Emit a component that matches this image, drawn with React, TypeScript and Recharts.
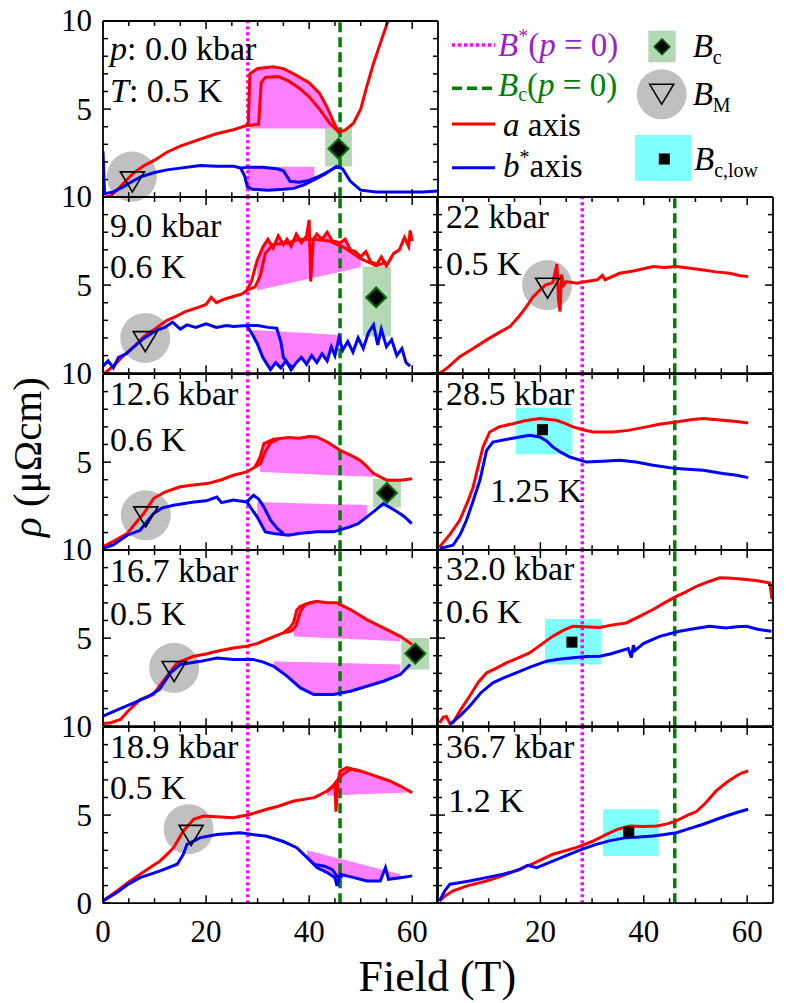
import React from 'react';
import { ComposedChart, Line, Area, XAxis, YAxis, ReferenceLine, ReferenceArea, ReferenceDot } from 'recharts';

type Pt = [number, number];

// ---------- axes ----------
const fieldTicks = [0, 5, 10, 15, 20, 25, 30, 35, 40, 45, 50, 55, 60];
const rhoTicks = [0, 1, 2, 3, 4, 5, 6, 7, 8, 9, 10];
const fieldDomain: [number, number] = [0, 65];
const rhoDomain: [number, number] = [0, 10];
const bStarField = 28.1;
const bcField = 46;

// ---------- p = 0.0 kbar, 0.5 K ----------
const p00Red1: Pt[] = [[0, 0], [1.4, 0.05], [3.4, 0.6], [5.9, 1.37], [8, 1.8], [10, 2.1], [12.4, 2.55], [15, 2.9], [18.9, 3.3], [22, 3.6], [25.3, 3.83], [27.6, 4.05], [28.2, 4.2], [28.5, 7.0], [30, 7.3], [33, 7.4], [35, 7.3], [37, 7.0], [40, 6.5], [42, 5.9], [43.5, 5.1], [44.7, 4.3], [45.7, 3.7], [47, 3.8], [48.6, 4.2], [50, 5.0], [51.2, 6.3], [52.5, 7.6], [54, 8.9], [55.3, 10]];
const p00Red2: Pt[] = [[27.6, 4.05], [29, 4.1], [30.2, 4.15], [30.7, 6.5], [31.5, 6.8], [34, 6.85], [36, 6.6], [38, 6.2], [40, 5.7], [42, 5.0], [44, 4.2], [45.7, 3.7]];
const p00Blue1: Pt[] = [[0, 2.6], [0.3, 0.2], [2, 0.3], [4, 0.6], [6, 0.95], [7.3, 1.15], [10, 1.4], [12.4, 1.55], [15, 1.65], [18.9, 1.8], [22, 1.75], [25.4, 1.75], [26.7, 1.65], [27.5, 1.2], [28, 0.6], [29, 0.45], [32, 0.4], [35, 0.45], [37, 0.5], [39, 0.7], [41, 1.0], [43, 1.3], [45.4, 1.75], [46.5, 1.6], [48, 0.9], [50, 0.4], [53, 0.3], [58, 0.3], [62, 0.3], [65, 0.35]];
const p00Blue2: Pt[] = [[26.7, 1.65], [28, 1.7], [31, 1.7], [34, 1.6], [35, 1.5], [36.3, 0.9], [38, 0.85], [40, 0.95], [42, 1.2], [44, 1.5], [45.4, 1.75]];
const p00RedFillEdge = [28.5, 45.7, 3.9, 3.9];
const p00BlueFillEdge = [28, 42, 1.73, 1.73];
const p00BcBox = [43.1, 48.3, 1.74, 3.91];
const p00Bc: Pt = [45.7, 2.75];
const p00BMHalo: Pt = [5.6, 1.17];
const p00BM: Pt = [5.7, 0.87];

// ---------- 9.0 kbar, 0.6 K ----------
const p90Red1: Pt[] = [[0.3, 0], [2, 0.4], [4, 1.0], [6, 1.5], [8, 2.1], [10, 2.5], [12.4, 3.0], [14, 3.2], [16, 3.5], [18.9, 3.78], [20, 3.9], [21, 4.3], [22, 4.0], [23.5, 4.2], [25.3, 4.35], [27, 4.5], [27.9, 4.7], [28.8, 5.2], [29.9, 6.4], [31.1, 7.2], [32, 7.6], [33, 7.1], [34, 7.8], [35, 7.3], [35.7, 7.6], [36.5, 7.2], [37.5, 7.9], [38.5, 7.4], [39.5, 7.8], [40, 8.7], [40.3, 5.2], [40.8, 7.6], [41.5, 7.9], [42.5, 7.6], [43.5, 8.0], [44.5, 7.5], [46, 7.4], [47, 7.6], [48, 7.0], [49, 6.9], [50, 6.6], [51, 6.9], [52, 6.3], [53.2, 6.2], [54, 6.6], [55, 6.1], [56.4, 6.8], [57.5, 7.0], [58.5, 7.7], [59.3, 7.2], [59.6, 8.1], [60, 7.5]];
const p90Red2: Pt[] = [[27.9, 4.7], [29.5, 4.9], [30.5, 5.5], [31.5, 6.8], [33, 7.3], [36, 7.4], [38, 7.6], [41, 7.6], [44, 7.5], [47, 7.1], [50, 6.5], [53, 6.1], [55, 6.3]];
const p90Blue1: Pt[] = [[0, 0.4], [1, 0.7], [2, 0.3], [3, 0.9], [4.5, 1.1], [6, 1.5], [8, 2.0], [10.5, 2.45], [12, 2.6], [13.5, 2.9], [15, 2.5], [16.3, 2.74], [18, 2.6], [20, 2.8], [22, 2.6], [24, 2.7], [25.3, 2.65], [27.9, 2.7], [29, 2.2], [29.9, 1.7], [31, 0.9], [31.7, 0.57], [32.5, 0.2], [33.5, 0.6], [34.5, 0.3], [35.5, 0.7], [36.5, 0.2], [37.5, 0.6], [38.5, 0.9], [39.5, 0.5], [40.5, 1.0], [41.5, 0.6], [42.5, 1.1], [43.5, 0.7], [44.3, 1.5], [45, 1.0], [45.8, 2.0], [46.5, 1.3], [47.5, 1.8], [48.5, 1.2], [49.5, 2.0], [50.5, 1.4], [51.5, 2.3], [52.5, 2.74], [53.3, 1.6], [54, 2.5], [55, 1.5], [56, 1.9], [57, 1.0], [58, 1.4], [58.8, 0.6], [59.6, 0.4]];
const p90Blue2: Pt[] = [[27.9, 2.7], [30, 2.7], [32, 2.6], [33.7, 2.55], [34.5, 1.8], [35, 0.9], [36, 0.5], [37, 0.3]];
const p90RedFillEdge = [29.9, 50.5, 4.7, 6.05];
const p90BlueFillEdge = [28.6, 46, 2.46, 2.17];
const p90BcBox = [50.4, 55.9, 2.08, 6.05];
const p90Bc: Pt = [53, 4.3];
const p90BMHalo: Pt = [8.2, 2.0];
const p90BM: Pt = [8.2, 1.79];

// ---------- 12.6 kbar, 0.6 K ----------
const p126Red1: Pt[] = [[0, 0.2], [2, 0.5], [4.7, 0.95], [6.5, 1.6], [7.9, 2.08], [9.8, 2.93], [12, 3.3], [15, 3.6], [17.5, 3.7], [20.2, 3.78], [23, 4.0], [25.3, 4.25], [27.9, 4.44], [29.5, 4.72], [30.5, 5.3], [31.2, 6.05], [33.1, 6.3], [36, 6.4], [38, 6.35], [40, 6.45], [41.5, 6.43], [43.5, 6.14], [46, 5.67], [48, 5.4], [49.9, 5.1], [51.2, 4.75], [52.5, 4.35], [55.1, 3.97], [57.7, 3.97], [60, 4.06]];
const p126Red2: Pt[] = [[29.5, 4.72], [30.5, 4.9], [31.5, 5.6], [32.5, 6.1], [34, 6.3]];
const p126Blue1: Pt[] = [[0, 0.1], [2, 0.3], [4.7, 0.85], [7.2, 1.13], [8.5, 1.6], [9.8, 2.08], [11.5, 2.4], [13.7, 2.55], [17.6, 2.74], [20, 2.8], [22.1, 3.02], [23, 2.7], [25.3, 2.85], [27.9, 2.74], [29.9, 1.89], [31.5, 1.04], [33.1, 0.95], [36, 0.85], [38, 0.95], [41.5, 1.04], [44.7, 1.04], [47.9, 1.32], [49.5, 1.5], [51.2, 1.89], [53, 2.3], [54.4, 2.65], [55.5, 2.45], [57, 2.2], [58.5, 1.9], [59.9, 1.51]];
const p126Blue2: Pt[] = [[27.9, 2.74], [29.2, 3.12], [30.2, 2.9], [31.2, 2.46], [32.5, 1.7], [33.8, 1.23], [35, 0.95]];
const p126RedFillEdge = [30.5, 52.5, 4.44, 4.16];
const p126BlueFillEdge = [28.6, 52.5, 2.74, 2.55];
const p126BcBox = [52.4, 57.8, 2.42, 4.06];
const p126Bc: Pt = [55.1, 3.25];
const p126BMHalo: Pt = [8.3, 1.98];
const p126BM: Pt = [8.3, 1.89];

// ---------- 16.7 kbar, 0.5 K ----------
const p167Red1: Pt[] = [[0, 0.15], [1.5, 0.2], [3.4, 0.38], [5, 0.9], [7.2, 1.51], [9.8, 1.8], [11, 2.3], [12.4, 2.84], [14.4, 3.6], [17.6, 3.97], [20, 4.1], [22.1, 4.25], [25.3, 4.44], [27.9, 4.54], [30, 4.7], [31.8, 4.92], [35, 5.3], [36.3, 5.6], [37, 5.9], [37.6, 6.6], [38.3, 6.8], [40, 7.0], [41.5, 7.09], [43.5, 7.0], [45.4, 7.0], [48, 6.62], [51.2, 6.05], [54.4, 5.58], [57.7, 5.1], [60, 4.63]];
const p167Red2: Pt[] = [[35, 5.3], [36.5, 5.4], [37.5, 5.7], [38.3, 6.5], [39.2, 6.9], [41, 7.05]];
const p167Blue1: Pt[] = [[0, 0.57], [3, 0.95], [6, 1.32], [8.9, 1.7], [10.9, 2.08], [13.1, 3.03], [15, 3.5], [18.9, 3.68], [22.1, 3.87], [25.3, 3.78], [29.2, 3.78], [31, 3.65], [33.1, 3.4], [35.7, 2.84], [38.3, 2.17], [40.9, 1.8], [44.7, 1.8], [48, 1.98], [51.2, 2.27], [54.4, 2.55], [57.7, 2.93], [59.6, 3.5]];
const p167RedFillEdge = [37, 57.7, 5.1, 4.82];
const p167BlueFillEdge = [33.1, 57.7, 3.68, 3.5];
const p167BcBox = [57.9, 63.3, 3.22, 5.01];
const p167Bc: Pt = [60.6, 4.12];
const p167BMHalo: Pt = [13.8, 3.31];
const p167BM: Pt = [13.8, 3.1];

// ---------- 18.9 kbar, 0.5 K ----------
const p189Red1: Pt[] = [[0, 0.13], [2.7, 0.7], [5, 1.2], [7.2, 1.64], [9, 2.0], [11.1, 2.4], [12.5, 2.8], [13.7, 3.15], [15.6, 4.1], [17.6, 4.76], [19.5, 4.95], [22, 4.9], [25.3, 4.85], [28.6, 5.05], [31.8, 5.33], [34, 5.5], [37, 5.8], [41, 5.99], [43.5, 6.37], [45, 6.75], [45.2, 5.2], [45.6, 6.9], [46, 7.5], [47.3, 7.69], [49.9, 7.5], [51.5, 7.35], [53.8, 7.12], [55.5, 6.95], [57.7, 6.65], [60, 6.27]];
const p189Red2: Pt[] = [[43.5, 6.37], [44.5, 6.6], [45.5, 7.0], [46.5, 7.3], [48, 7.6], [50, 7.5]];
const p189Blue1: Pt[] = [[0, 0.13], [2.7, 0.6], [5, 1.1], [7.2, 1.45], [11.1, 1.83], [14.4, 2.21], [15.6, 2.78], [16.3, 3.34], [18.9, 3.72], [22.1, 3.9], [26.6, 4.0], [29, 3.9], [31.8, 3.8], [35, 3.5], [37.6, 3.15], [39.6, 2.59], [41.5, 2.02], [43.5, 1.74], [45, 1.45], [45.4, 0.98], [46, 1.64], [48.7, 1.45], [51.2, 1.26], [53.8, 1.26], [54.8, 2.02], [55.4, 1.36], [57.7, 1.45], [60, 1.55]];
const p189Blue2: Pt[] = [[39.6, 2.59], [41, 2.2], [43, 2.1], [44.5, 1.9], [45.5, 1.5], [46.5, 1.5]];
const p189RedFillEdge = [43.5, 60, 6.1, 6.3];
const p189BlueFillEdge = [38.9, 57.7, 3.06, 1.64];
const p189BMHalo: Pt = [16.6, 4.2];
const p189BM: Pt = [17.1, 3.85];

// ---------- 22 kbar, 0.5 K ----------
const p220Red1: Pt[] = [[0.5, 0], [2, 0.3], [4.4, 0.94], [7, 1.4], [9.6, 1.89], [12, 2.3], [14.1, 2.64], [15.8, 3.2], [17.3, 3.78], [18.5, 4.3], [19.9, 4.72], [21, 5.0], [22.4, 5.14], [22.9, 5.8], [23.2, 6.2], [23.5, 4.2], [23.8, 3.5], [24.1, 5.6], [24.5, 5.0], [25, 5.2], [27, 5.1], [28.9, 5.2], [31, 5.3], [32, 5.55], [32.5, 5.3], [35.3, 5.67], [38, 5.8], [41.8, 6.05], [44, 6.0], [46.3, 6.05], [49, 5.95], [51.5, 5.86], [54, 5.75], [56.6, 5.67], [58.5, 5.55], [60.2, 5.48]];
const p220BMHalo: Pt = [21.3, 5.0];
const p220BM: Pt = [21.4, 4.82];

// ---------- 28.5 kbar, 1.25 K ----------
const p285Red1: Pt[] = [[0.5, 0.19], [2.5, 0.9], [4.4, 1.7], [6, 2.8], [7, 3.59], [8, 4.8], [8.9, 5.86], [10.2, 6.71], [12, 7.0], [14.7, 7.18], [17, 7.35], [19.9, 7.47], [23.1, 7.37], [24.8, 7.2], [26.3, 7.0], [28, 6.85], [30.2, 6.71], [34, 6.71], [37, 6.8], [40.5, 7.0], [43, 7.15], [46.3, 7.28], [49, 7.4], [51.5, 7.47], [55.3, 7.37], [58, 7.3], [60.2, 7.22]];
const p285Blue1: Pt[] = [[0.5, 0.1], [3.1, 0.28], [4.5, 0.9], [5.7, 1.7], [7, 2.8], [8.3, 3.97], [9.6, 5.67], [10.8, 6.14], [14.1, 6.33], [17.9, 6.52], [19.9, 6.43], [21.2, 6.2], [22.4, 5.86], [24, 5.55], [25.7, 5.29], [28.9, 5.0], [32, 5.05], [35.3, 5.1], [38.5, 5.0], [41.8, 4.82], [46.3, 4.63], [51.5, 4.54], [55.3, 4.35], [58, 4.25], [60.2, 4.12]];
const p285LowBox = [15.2, 26.2, 5.45, 8.09];
const p285BcLow: Pt = [20.4, 6.84];

// ---------- 32.0 kbar, 0.6 K ----------
const p320Red1: Pt[] = [[0.5, 0.19], [1.2, 0.5], [1.8, 0.55], [2.5, 0.15], [3.1, 0.2], [4.5, 0.9], [6.3, 1.7], [8, 2.5], [9.6, 3.03], [11.5, 3.3], [13.4, 3.59], [15.5, 3.85], [17.9, 4.16], [20, 4.6], [22.4, 5.1], [24.5, 5.45], [26.3, 5.67], [28.5, 5.65], [31.5, 5.6], [34, 5.75], [36.6, 5.86], [39, 6.2], [41.8, 6.62], [44, 7.0], [46.3, 7.37], [48, 7.6], [50.2, 7.94], [52.5, 8.2], [54.7, 8.42], [57, 8.4], [59.9, 8.32], [62, 8.25], [64.4, 8.13], [64.8, 7.2]];
const p320Blue1: Pt[] = [[2.5, 0.1], [4.5, 0.6], [6.3, 1.13], [8.5, 1.9], [10.8, 2.46], [13, 2.75], [15.3, 3.03], [18, 3.35], [21.2, 3.69], [23.5, 3.8], [26.3, 3.88], [29, 3.95], [31.5, 3.97], [33.5, 4.1], [35.3, 4.25], [37, 4.4], [37.6, 3.9], [38, 4.6], [38.3, 4.3], [40, 4.7], [43.1, 5.1], [46.9, 5.39], [50, 5.55], [52.7, 5.67], [55.9, 5.58], [58, 5.65], [59.9, 5.67], [62, 5.5], [64.7, 5.39]];
const p320LowBox = [20.9, 31.8, 3.5, 6.09];
const p320BcLow: Pt = [26.1, 4.77];

// ---------- 36.7 kbar, 1.2 K ----------
const p367Red1: Pt[] = [[0.5, 0.13], [1.5, 0.4], [3.1, 0.7], [6, 1.0], [9.6, 1.26], [13, 1.6], [16, 1.93], [19, 2.3], [22.4, 2.78], [26.9, 3.15], [30, 3.5], [32.8, 3.91], [35, 4.2], [37.3, 4.38], [40, 4.35], [42.5, 4.38], [44.5, 4.5], [46.3, 4.67], [48.5, 5.0], [50.2, 5.2], [52, 5.7], [54, 6.37], [56, 6.85], [57.9, 7.22], [59, 7.4], [60.2, 7.5]];
const p367Blue1: Pt[] = [[0.5, 0.13], [1.5, 0.7], [2.5, 1.08], [4, 1.15], [6.3, 1.26], [9.5, 1.45], [12.8, 1.64], [16, 1.9], [17.5, 2.15], [19.3, 2.02], [22.5, 2.4], [25.7, 2.78], [28, 3.05], [30.8, 3.34], [33.5, 3.55], [36.6, 3.72], [39, 3.75], [41.8, 3.82], [44, 3.9], [46.3, 4.0], [48.5, 4.2], [51.5, 4.48], [54, 4.75], [55.9, 4.95], [58, 5.15], [60.2, 5.33]];
const p367LowBox = [32.1, 42.9, 2.68, 5.33];
const p367BcLow: Pt = [37.1, 4.04];

// ---------- layout ----------
const FONT = 'Liberation Serif';
const COL_LEFT = [102.7, 437.3];
const COL_W = [335, 336];
const ROW_TOP = [21, 197.3, 373.5, 550, 726.6];
const ROW_H = 176.2;
const PAD_L = 70, PAD_R = 12, PAD_T = 20, PAD_B = 60;

const RED = '#ff0000';
const BLUE = '#0000ff';
const FILL = '#ff80ff';
const GREEN_BOX = '#b3d8b3';
const CYAN_BOX = '#80ffff';
const HALO = '#c0c0c0';

const toXY = (pts: Pt[]) => pts.map(([x, y]) => ({ x, y }));
const fillTable = (curve: Pt[], e: number[]) => {
  const [x0, x1, b0, b1] = e;
  return curve
    .filter(([x]) => x >= x0 && x <= x1)
    .map(([x, y]) => ({ x, r: [b0 + ((b1 - b0) * (x - x0)) / (x1 - x0), y] }));
};

type PanelSpec = {
  col: number;
  row: number;
  red: Pt[][];
  blue: Pt[][];
  fills: { curve: Pt[]; edge: number[] }[];
  greenBox?: number[];
  diamond?: Pt;
  cyanBox?: number[];
  square?: Pt;
  halo?: Pt;
  tri?: Pt;
};

const panels: PanelSpec[] = [
  { col: 0, row: 0, red: [p00Red1, p00Red2], blue: [p00Blue1, p00Blue2], fills: [{ curve: p00Red1, edge: p00RedFillEdge }, { curve: p00Blue1, edge: p00BlueFillEdge }], greenBox: p00BcBox, diamond: p00Bc, halo: p00BMHalo, tri: p00BM },
  { col: 0, row: 1, red: [p90Red1, p90Red2], blue: [p90Blue1, p90Blue2], fills: [{ curve: p90Red1, edge: p90RedFillEdge }, { curve: p90Blue1, edge: p90BlueFillEdge }], greenBox: p90BcBox, diamond: p90Bc, halo: p90BMHalo, tri: p90BM },
  { col: 0, row: 2, red: [p126Red1, p126Red2], blue: [p126Blue1, p126Blue2], fills: [{ curve: p126Red1, edge: p126RedFillEdge }, { curve: p126Blue1, edge: p126BlueFillEdge }], greenBox: p126BcBox, diamond: p126Bc, halo: p126BMHalo, tri: p126BM },
  { col: 0, row: 3, red: [p167Red1, p167Red2], blue: [p167Blue1], fills: [{ curve: p167Red1, edge: p167RedFillEdge }, { curve: p167Blue1, edge: p167BlueFillEdge }], greenBox: p167BcBox, diamond: p167Bc, halo: p167BMHalo, tri: p167BM },
  { col: 0, row: 4, red: [p189Red1, p189Red2], blue: [p189Blue1, p189Blue2], fills: [{ curve: p189Red1, edge: p189RedFillEdge }, { curve: p189Blue1, edge: p189BlueFillEdge }], halo: p189BMHalo, tri: p189BM },
  { col: 1, row: 1, red: [p220Red1], blue: [], fills: [], halo: p220BMHalo, tri: p220BM },
  { col: 1, row: 2, red: [p285Red1], blue: [p285Blue1], fills: [], cyanBox: p285LowBox, square: p285BcLow },
  { col: 1, row: 3, red: [p320Red1], blue: [p320Blue1], fills: [], cyanBox: p320LowBox, square: p320BcLow },
  { col: 1, row: 4, red: [p367Red1], blue: [p367Blue1], fills: [], cyanBox: p367LowBox, square: p367BcLow },
];

// ---------- tick renderers ----------
const bottomTick = (showLabels: boolean, col: number) => (props: any) => {
  const { x, y, payload } = props;
  const v = payload.value as number;
  const major = v % 20 === 0;
  return (
    <g>
      <line x1={x} y1={y} x2={x} y2={y - (major ? 8 : 5)} stroke="#000" strokeWidth={1.5} />
      {showLabels && major && !(col === 1 && v === 0) ? (
        <text x={x} y={y + 39} textAnchor="middle" fontFamily={FONT} fontSize={31} fill="#000">{v}</text>
      ) : null}
    </g>
  );
};
const topTick = (props: any) => {
  const { x, y, payload } = props;
  const major = (payload.value as number) % 20 === 0;
  return <line x1={x} y1={y} x2={x} y2={y + (major ? 8 : 5)} stroke="#000" strokeWidth={1.5} />;
};
// "0" of an upper panel coincides with the "10" of the panel below, so only the bottom row shows 0
const leftTick = (showLabels: boolean, showZero: boolean) => (props: any) => {
  const { x, y, payload } = props;
  const v = payload.value as number;
  const major = v % 5 === 0;
  const label = showLabels && major && (v !== 0 || showZero);
  return (
    <g>
      <line x1={x} y1={y} x2={x + (major ? 8 : 5)} y2={y} stroke="#000" strokeWidth={1.5} />
      {label ? (
        <text x={x - 11} y={y + 10.5} textAnchor="end" fontFamily={FONT} fontSize={31} fill="#000">{v}</text>
      ) : null}
    </g>
  );
};
const rightTick = (props: any) => {
  const { x, y, payload } = props;
  const major = (payload.value as number) % 5 === 0;
  return <line x1={x} y1={y} x2={x - (major ? 8 : 5)} y2={y} stroke="#000" strokeWidth={1.5} />;
};

const diamondShape = (p: any) => (
  <polygon points={`${p.cx},${p.cy - 10} ${p.cx + 10},${p.cy} ${p.cx},${p.cy + 10} ${p.cx - 10},${p.cy}`} fill="#000" stroke="#0a6e0a" strokeWidth={2} />
);
const triShape = (p: any) => (
  <polygon points={`${p.cx - 12},${p.cy - 10} ${p.cx + 12},${p.cy - 10} ${p.cx},${p.cy + 10}`} fill="none" stroke="#000" strokeWidth={1.6} />
);
const squareShape = (p: any) => <rect x={p.cx - 5.5} y={p.cy - 5.5} width={11} height={11} fill="#000" />;

const AX = { xAxisId: 'b', yAxisId: 'l' } as const;

function Panel({ spec }: { spec: PanelSpec }) {
  const left = COL_LEFT[spec.col];
  const top = ROW_TOP[spec.row];
  const w = COL_W[spec.col];
  const W = w + PAD_L + PAD_R;
  const H = ROW_H + PAD_T + PAD_B;
  const axisLine = { stroke: '#000', strokeWidth: 1.8 };
  return (
    <div style={{ position: 'absolute', left: left - PAD_L, top: top - PAD_T, width: W, height: H }}>
      <ComposedChart width={W} height={H} margin={{ top: PAD_T - 1, right: PAD_R - 1, bottom: PAD_B - 1, left: PAD_L - 1 }}>
        <XAxis xAxisId="b" dataKey="x" type="number" orientation="bottom" domain={fieldDomain} ticks={fieldTicks} allowDataOverflow height={1} tickSize={0} tickMargin={0} interval={0} tickLine={false} axisLine={axisLine} tick={bottomTick(spec.row === 4, spec.col)} />
        <XAxis xAxisId="t" dataKey="x" type="number" orientation="top" domain={fieldDomain} ticks={fieldTicks} allowDataOverflow height={1} tickSize={0} tickMargin={0} interval={0} tickLine={false} axisLine={axisLine} tick={topTick} />
        <YAxis yAxisId="l" type="number" orientation="left" domain={rhoDomain} ticks={rhoTicks} allowDataOverflow width={1} tickSize={0} tickMargin={0} interval={0} tickLine={false} axisLine={axisLine} tick={leftTick(spec.col === 0, spec.row === 4)} />
        <YAxis yAxisId="r" type="number" orientation="right" domain={rhoDomain} ticks={rhoTicks} allowDataOverflow width={1} tickSize={0} tickMargin={0} interval={0} tickLine={false} axisLine={axisLine} tick={rightTick} />
        {spec.greenBox ? (
          <ReferenceArea {...AX} x1={spec.greenBox[0]} x2={spec.greenBox[1]} y1={spec.greenBox[2]} y2={spec.greenBox[3]} fill={GREEN_BOX} fillOpacity={1} stroke="none" zIndex={40} />
        ) : null}
        {spec.cyanBox ? (
          <ReferenceArea {...AX} x1={spec.cyanBox[0]} x2={spec.cyanBox[1]} y1={spec.cyanBox[2]} y2={spec.cyanBox[3]} fill={CYAN_BOX} fillOpacity={1} stroke="none" zIndex={40} />
        ) : null}
        {spec.halo ? <ReferenceDot {...AX} x={spec.halo[0]} y={spec.halo[1]} r={25} fill={HALO} stroke="none" zIndex={50} /> : null}
        {spec.fills.map((f, i) => (
          <Area key={'f' + i} {...AX} data={fillTable(f.curve, f.edge)} dataKey="r" type="linear" fill={FILL} fillOpacity={1} stroke="none" isAnimationActive={false} dot={false} activeDot={false} />
        ))}
        <ReferenceLine {...AX} x={bStarField} stroke="#ff00ff" strokeWidth={3.5} strokeDasharray="3 3" zIndex={300} />
        <ReferenceLine {...AX} x={bcField} stroke="#008000" strokeWidth={3.5} strokeDasharray="10 5" zIndex={300} />
        {spec.red.map((d, i) => (
          <Line key={'r' + i} {...AX} data={toXY(d)} dataKey="y" type="linear" stroke={RED} strokeWidth={3} dot={false} activeDot={false} isAnimationActive={false} />
        ))}
        {spec.blue.map((d, i) => (
          <Line key={'b' + i} {...AX} data={toXY(d)} dataKey="y" type="linear" stroke={BLUE} strokeWidth={3} dot={false} activeDot={false} isAnimationActive={false} />
        ))}
        {spec.tri ? <ReferenceDot {...AX} x={spec.tri[0]} y={spec.tri[1]} r={12} shape={triShape} zIndex={700} /> : null}
        {spec.diamond ? <ReferenceDot {...AX} x={spec.diamond[0]} y={spec.diamond[1]} r={10} shape={diamondShape} zIndex={700} /> : null}
        {spec.square ? <ReferenceDot {...AX} x={spec.square[0]} y={spec.square[1]} r={6} shape={squareShape} zIndex={700} /> : null}
      </ComposedChart>
    </div>
  );
}

const txt = (x: number, y: number, children: React.ReactNode, extra: any = {}) => (
  <text x={x} y={y} fontFamily={FONT} fontSize={34} fill="#000" {...extra}>{children}</text>
);

function Overlay() {
  const sub = { fontSize: 20 };
  return (
    <svg width={790} height={1003} fontFamily={FONT} style={{ position: 'absolute', left: 0, top: 0, pointerEvents: 'none' }}>
      {/* panel annotations */}
      {txt(110, 60, <><tspan fontStyle="italic">p</tspan>: 0.0 kbar</>)}
      {txt(110, 101.7, <><tspan fontStyle="italic">T</tspan>: 0.5 K</>)}
      {txt(110, 236.7, '9.0 kbar')}
      {txt(110, 278.3, '0.6 K')}
      {txt(110, 405, '12.6 kbar')}
      {txt(110, 450.7, '0.6 K')}
      {txt(110, 581.7, '16.7 kbar')}
      {txt(110, 625, '0.5 K')}
      {txt(110, 758.3, '18.9 kbar')}
      {txt(110, 799, '0.5 K')}
      {txt(446, 228.3, '22 kbar')}
      {txt(446, 275, '0.5 K')}
      {txt(446, 405, '28.5 kbar')}
      {txt(490, 501.7, '1.25 K')}
      {txt(446, 580, '32.0 kbar')}
      {txt(446, 623.3, '0.6 K')}
      {txt(446, 758.3, '36.7 kbar')}
      {txt(448.3, 811.7, '1.2 K')}

      {/* axis titles */}
      <text x={437.3} y={990.7} textAnchor="middle" fontFamily={FONT} fontSize={44} fill="#000">Field (T)</text>
      <text transform="translate(41,457) rotate(-90)" textAnchor="middle" fontFamily={FONT} fontSize={41} fill="#000">
        <tspan fontStyle="italic">ρ</tspan> (μΩcm)
      </text>

      {/* legend */}
      <line x1={452} y1={45} x2={495} y2={45} stroke="#ff00ff" strokeWidth={3.5} strokeDasharray="3 3" />
      {txt(498, 56, <><tspan fontStyle="italic">B</tspan><tspan dy={-13} {...sub}>*</tspan><tspan dy={13}>(</tspan><tspan fontStyle="italic">p</tspan> = 0)</>, { fill: '#9a1fc9', fontSize: 33 })}
      <line x1={452} y1={88.3} x2={495} y2={88.3} stroke="#008000" strokeWidth={3.5} strokeDasharray="10 5" />
      {txt(498, 96, <><tspan fontStyle="italic">B</tspan><tspan dy={5} {...sub}>c</tspan><tspan dy={-5}>(</tspan><tspan fontStyle="italic">p</tspan> = 0)</>, { fill: '#008000', fontSize: 33 })}
      <line x1={452} y1={124} x2={495} y2={124} stroke={RED} strokeWidth={3} />
      {txt(503, 135.5, <><tspan fontStyle="italic">a</tspan> axis</>, { fontSize: 33 })}
      <line x1={452} y1={167.7} x2={495} y2={167.7} stroke={BLUE} strokeWidth={3} />
      {txt(503, 177, <><tspan fontStyle="italic">b</tspan><tspan dy={-13} {...sub}>*</tspan><tspan dy={13}>axis</tspan></>, { fontSize: 33 })}

      <rect x={648.3} y={30.7} width={27.4} height={31.6} fill={GREEN_BOX} />
      <polygon points="662,38.7 670,46.7 662,54.7 654,46.7" fill="#000" stroke="#0a6e0a" strokeWidth={1.5} />
      {txt(692.7, 57, <><tspan fontStyle="italic">B</tspan><tspan dy={7} {...sub}>c</tspan></>, { fontSize: 33 })}
      <circle cx={661.7} cy={94.3} r={25} fill={HALO} />
      <polygon points="649.7,84.3 673.7,84.3 661.7,104.3" fill="none" stroke="#000" strokeWidth={1.6} />
      {txt(692.7, 105, <><tspan fontStyle="italic">B</tspan><tspan dy={7} {...sub}>M</tspan></>, { fontSize: 33 })}
      <rect x={635} y={135} width={56.7} height={46} fill={CYAN_BOX} />
      <rect x={658.8} y={153.5} width={11} height={11} fill="#000" />
      {txt(694, 170, <><tspan fontStyle="italic">B</tspan><tspan dy={7} {...sub}>c,low</tspan></>, { fontSize: 33 })}
    </svg>
  );
}

export default function App() {
  return (
    <div style={{ position: 'absolute', left: 0, top: 0, width: 790, height: 1003, background: '#fff', overflow: 'hidden' }}>
      {panels.map((p, i) => (
        <Panel key={i} spec={p} />
      ))}
      <Overlay />
    </div>
  );
}
